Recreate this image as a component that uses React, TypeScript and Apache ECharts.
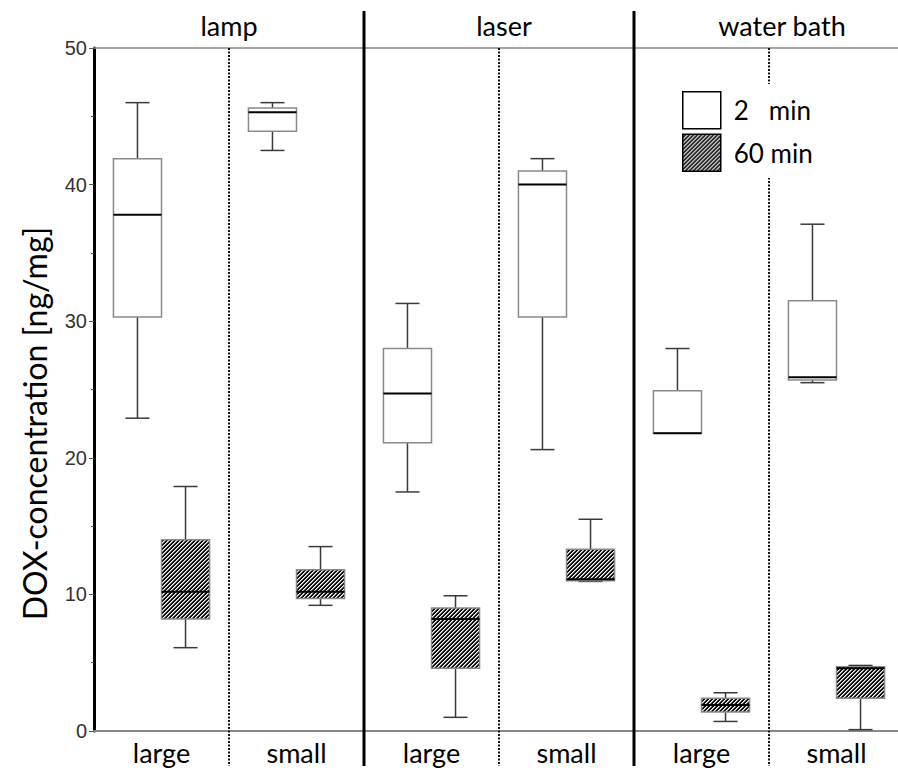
import React, { useEffect, useRef } from 'react';
import * as echarts from 'echarts';

const subgroups = ['large', 'small', 'large', 'small', 'large', 'small'];
const groups = ['lamp', 'laser', 'water bath'];
const seriesNames = ['2 min', '60 min'];
// each row: [min, Q1, median, Q3, max]
const box2min = [
  [22.9, 30.3, 37.8, 41.9, 46.0],
  [42.5, 43.9, 45.3, 45.6, 46.0],
  [17.5, 21.1, 24.7, 28.0, 31.3],
  [20.6, 30.3, 40.0, 41.0, 41.9],
  [21.8, 21.8, 21.8, 24.9, 28.0],
  [25.5, 25.7, 25.9, 31.5, 37.1],
];
const box60min = [
  [6.1, 8.2, 10.2, 14.0, 17.9],
  [9.2, 9.7, 10.2, 11.8, 13.5],
  [1.0, 4.6, 8.2, 9.0, 9.9],
  [10.95, 11.0, 11.1, 13.3, 15.5],
  [0.7, 1.4, 1.9, 2.4, 2.8],
  [0.1, 2.4, 4.6, 4.7, 4.8],
];
const yMin = 0;
const yMax = 50;
const yInterval = 10;

function makeHatch() {
  const s = 4;
  const c = document.createElement('canvas');
  c.width = s;
  c.height = s;
  const ctx = c.getContext('2d')!;
  const img = ctx.createImageData(s, s);
  for (let y = 0; y < s; y++) {
    for (let x = 0; x < s; x++) {
      const k = (x + y) % s;
      const v = k === 0 ? 255 : k === 1 ? 150 : 15;
      const p = (y * s + x) * 4;
      img.data[p] = v;
      img.data[p + 1] = v;
      img.data[p + 2] = v;
      img.data[p + 3] = 255;
    }
  }
  ctx.putImageData(img, 0, 0);
  return c;
}

export default function App() {
  const ref = useRef<HTMLDivElement>(null);
  useEffect(() => {
    const el = ref.current!;
    const chart = echarts.init(el, undefined, { renderer: 'svg' });
    const hatch: any = { image: makeHatch(), repeat: 'repeat' };
    const font = 'Lato, "Open Sans", sans-serif';

    const render = (side: number, fill: any) => (params: any, api: any) => {
      const i = api.value(0);
      const cx = api.coord([i, 0])[0];
      const band = api.size([1, 0])[0];
      const w = band * 0.356;
      const x0 = side < 0 ? cx - w : cx;
      const xc = x0 + w / 2;
      const y = (k: number) => api.coord([i, api.value(k)])[1];
      const vMin = y(1), q1 = y(2), med = y(3), q3 = y(4), vMax = y(5);
      const cap = w / 2;
      const wh = { stroke: '#3a3a3a', lineWidth: 1.5 };
      return {
        type: 'group',
        children: [
          { type: 'line', shape: { x1: xc, y1: q3, x2: xc, y2: vMax }, style: wh },
          { type: 'line', shape: { x1: xc - cap / 2, y1: vMax, x2: xc + cap / 2, y2: vMax }, style: wh },
          { type: 'line', shape: { x1: xc, y1: q1, x2: xc, y2: vMin }, style: wh },
          { type: 'line', shape: { x1: xc - cap / 2, y1: vMin, x2: xc + cap / 2, y2: vMin }, style: wh },
          { type: 'rect', shape: { x: x0, y: q3, width: w, height: q1 - q3 }, style: { fill, stroke: '#8a8a8a', lineWidth: 1.5 } },
          { type: 'line', shape: { x1: x0, y1: med, x2: x0 + w, y2: med }, style: { stroke: '#000', lineWidth: 2 } },
        ],
      };
    };

    const option: any = {
      animation: false,
      backgroundColor: '#fff',
      grid: { left: 94, top: 48, width: 810, bottom: 42, containLabel: false, outerBoundsMode: 'none' },
      legend: {
        orient: 'vertical',
        left: 682,
        top: 84,
        padding: [7, 4, 6, 0],
        backgroundColor: '#fff',
        itemWidth: 38,
        itemHeight: 37,
        itemGap: 4,
        z: 10,
        icon: 'rect',
        textStyle: { fontFamily: font, fontSize: 26, color: '#000', padding: [0, 0, 0, 8] },
        formatter: (n: string) => (n === '2 min' ? '2   min' : n),
        data: [
          { name: seriesNames[0], itemStyle: { color: '#fff', borderColor: '#000', borderWidth: 1.5 } },
          { name: seriesNames[1], itemStyle: { color: hatch, borderColor: '#000', borderWidth: 1.5 } },
        ],
      },
      xAxis: [
        {
          type: 'category',
          data: subgroups,
          position: 'bottom',
          axisLine: { lineStyle: { color: '#888', width: 2 } },
          axisTick: { show: false },
          axisLabel: { fontFamily: font, fontSize: 27, color: '#000', margin: 8 },
          splitLine: { show: false },
        },
        {
          type: 'category',
          data: [
            groups[0],
            { value: groups[1], textStyle: { padding: [0, 0, 0, 10] } },
            { value: groups[2], textStyle: { padding: [0, 0, 0, 26] } },
          ],
          position: 'top',
          axisLine: { lineStyle: { color: '#888', width: 1.5 } },
          axisTick: { show: false },
          axisLabel: { fontFamily: font, fontSize: 27, color: '#000', margin: 9 },
        },
      ],
      yAxis: {
        type: 'value',
        min: yMin,
        max: yMax,
        interval: yInterval,
        name: 'DOX-concentration [ng/mg]',
        nameLocation: 'middle',
        nameRotate: 90,
        nameGap: 44,
        nameTextStyle: { fontFamily: font, fontSize: 32, color: '#000', padding: [0, 68, 0, 0] },
        axisLine: { show: true, lineStyle: { color: '#000', width: 3 } },
        axisTick: { show: true, length: 5, lineStyle: { color: '#555', width: 1 } },
        minorTick: { show: true, splitNumber: 2, length: 3, lineStyle: { color: '#555', width: 1 } },
        axisLabel: { fontFamily: '"Liberation Sans", Arial, sans-serif', fontSize: 20, color: '#333', margin: 7 },
        splitLine: { show: false },
      },
      series: [
        {
          name: seriesNames[0],
          type: 'custom',
          xAxisIndex: 0,
          itemStyle: { color: '#fff', borderColor: '#000' },
          renderItem: render(-1, '#fff'),
          encode: { x: 0, y: [1, 2, 3, 4, 5] },
          data: box2min.map((b, i) => [i, ...b]),
          z: 3,
        },
        {
          name: seriesNames[1],
          type: 'custom',
          xAxisIndex: 0,
          itemStyle: { color: hatch, borderColor: '#000' },
          renderItem: render(1, hatch),
          encode: { x: 0, y: [1, 2, 3, 4, 5] },
          data: box60min.map((b, i) => [i, ...b]),
          z: 3,
        },
      ],
    };
    chart.setOption(option);

    const x0 = chart.convertToPixel({ xAxisIndex: 0 }, 0) as number;
    const x1 = chart.convertToPixel({ xAxisIndex: 0 }, 1) as number;
    const band = x1 - x0;
    const yTop = chart.convertToPixel({ yAxisIndex: 0 }, yMax) as number;
    const yBot = chart.convertToPixel({ yAxisIndex: 0 }, yMin) as number;
    const elements: any[] = [];
    for (let i = 1; i < subgroups.length; i++) {
      const bx = (chart.convertToPixel({ xAxisIndex: 0 }, i) as number) - band / 2;
      const solid = i % 2 === 0;
      elements.push({
        type: 'line',
        z: 1,
        silent: true,
        shape: { x1: bx, y1: solid ? yTop - 37 : yTop, x2: bx, y2: yBot + 35 },
        style: solid
          ? { stroke: '#000', lineWidth: 3 }
          : { stroke: '#111', lineWidth: 2, lineDash: [2, 1.5] },
      });
    }
    chart.setOption({ graphic: { elements } });

    return () => chart.dispose();
  }, []);
  return <div ref={ref} style={{ position: 'fixed', left: 0, top: 0, width: 898, height: 773 }} />;
}
